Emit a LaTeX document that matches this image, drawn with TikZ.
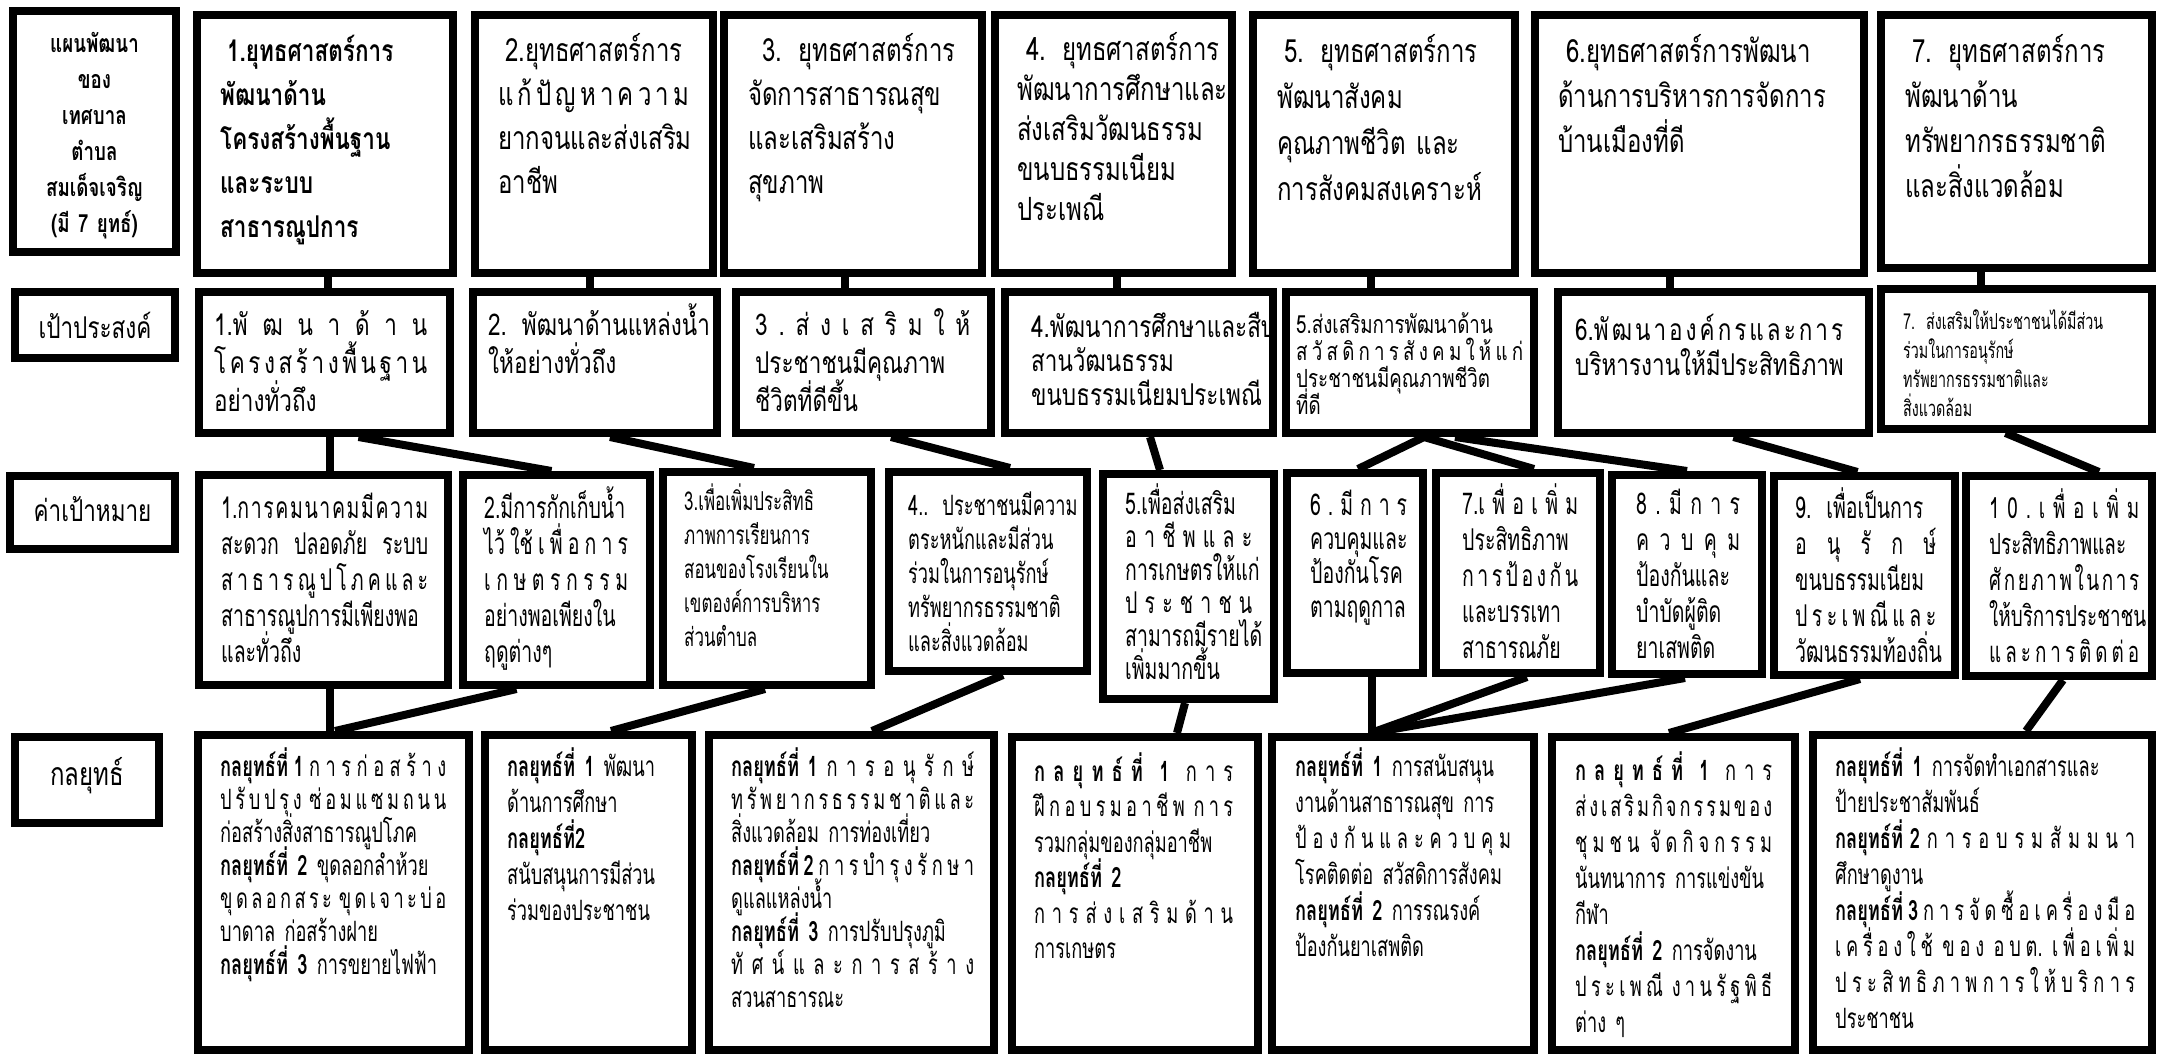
\documentclass[tikz,border=0pt]{standalone}
\usepackage{fontspec}
\setmainfont[Script=Thai,FakeStretch=0.75]{Loma}
\newfontfamily\cond[Script=Thai,FakeStretch=0.65]{Loma}
\usetikzlibrary{calc}
\lineskiplimit=-100pt
\newcommand\J[1]{\leavevmode\hbox to\hsize{\spaceskip=0pt plus 1fil\xspaceskip=0pt plus 1fil\strut#1}}
\newcommand\N[1]{\leavevmode\hbox{\strut#1}}
\newcommand\bx[5]{\node[box, minimum width={(#4)-(#2)-8}, minimum height={(#5)-(#3)-8}] (#1) at ({((#2)+(#4))/2},{((#3)+(#5))/2}) {};}
\newcommand\fs[2]{\fontsize{#1}{#2}\selectfont\lineskiplimit=-100pt }
\tikzset{
  box/.style={draw=black, line width=8pt, inner sep=0pt, rectangle, fill=white},
  conn/.style={draw=black, line width=8pt},
  tx/.style={anchor=base west, inner sep=0pt, align=left},
  lab/.style={anchor=base, inner sep=0pt, align=center},
}
\begin{document}
\begin{tikzpicture}[x=1pt,y=-1pt]
\fill[white] (0,0) rectangle (2158,1054);
\useasboundingbox (0,0) rectangle (2158,1054);
% ---------------- row 1
\bx{L1}{9}{7}{180}{256}
\bx{S1}{193}{11}{457}{277}
\bx{S2}{471}{11}{717}{277}
\bx{S3}{720}{11}{986}{277}
\bx{S4}{991}{11}{1236}{277}
\bx{S5}{1249}{11}{1519}{277}
\bx{S6}{1531}{11}{1868}{277}
\bx{S7}{1877}{11}{2156}{272}
% ---------------- row 2
\bx{P}{11}{288}{179}{362}
\bx{T1}{195}{288}{454}{437}
\bx{T2}{469}{288}{721}{437}
\bx{T3}{732}{288}{995}{437}
\bx{T4}{1001}{288}{1277}{437}
\bx{T5}{1282}{288}{1538}{437}
\bx{T6}{1554}{288}{1873}{437}
\bx{T7}{1877}{285}{2156}{433}
% ---------------- row 3
\bx{Q}{6}{472}{179}{553}
\bx{G1}{195}{471}{452}{689}
\bx{G2}{459}{471}{654}{689}
\bx{G3}{659}{468}{875}{689}
\bx{G4}{885}{468}{1091}{675}
\bx{G5}{1099}{470}{1278}{703}
\bx{G6}{1283}{469}{1427}{677}
\bx{G7}{1432}{469}{1604}{677}
\bx{G8}{1608}{471}{1766}{678}
\bx{G9}{1770}{472}{1959}{679}
\bx{G10}{1962}{472}{2156}{680}
% ---------------- row 4
\bx{R}{11}{733}{163}{827}
\bx{K1}{194}{731}{473}{1054}
\bx{K2}{481}{731}{696}{1054}
\bx{K3}{705}{731}{998}{1054}
\bx{K4}{1008}{733}{1262}{1054}
\bx{K5}{1268}{733}{1538}{1054}
\bx{K6}{1548}{733}{1799}{1054}
\bx{K7}{1809}{731}{2156}{1054}
% ---------------- connectors row1 -> row2
\draw[conn] ([xshift=3]S1.south) -- ([xshift=3]S1.south |- T1.north);
\draw[conn] ([xshift=-4]S2.south) -- ([xshift=-4]S2.south |- T2.north);
\draw[conn] ([xshift=-8]S3.south) -- ([xshift=-8]S3.south |- T3.north);
\draw[conn] ([xshift=3.5]S4.south) -- ([xshift=3.5]S4.south |- T4.north);
\draw[conn] ([xshift=-13]S5.south) -- ([xshift=-13]S5.south |- T5.north);
\draw[conn] ([xshift=-30]S6.south) -- ([xshift=-30]S6.south |- T6.north);
\draw[conn] ([xshift=-36]S7.south) -- ([xshift=-36]S7.south |- T7.north);
% ---------------- connectors row2 -> row3
\draw[conn] ([xshift=5.5]T1.south) -- ([xshift=5.5]T1.south |- G1.north);
\draw[conn] ([xshift=34]T1.south) -- ([xshift=-5]G2.north);
\draw[conn] ([xshift=15]T2.south) -- ([xshift=-13]G3.north);
\draw[conn] ([xshift=27.5]T3.south) -- ([xshift=22]G4.north);
\draw[conn] ([xshift=11]T4.south) -- ([xshift=-28.5]G5.north);
\draw[conn] ([xshift=14]T5.south) -- ([xshift=3]G6.north);
\draw[conn] ([xshift=14]T5.south) -- ([xshift=16]G7.north);
\draw[conn] ([xshift=45]T5.south) -- (G8.north);
\draw[conn] ([xshift=20]T6.south) -- ([xshift=-7]G9.north);
\draw[conn] ([xshift=-11]T7.south) -- ([xshift=40]G10.north);
% ---------------- connectors row3 -> row4
\draw[conn] ([xshift=6.5]G1.south) -- ([xshift=6.5]G1.south |- K1.north);
\draw[conn] ([xshift=-40]G2.south) -- ([xshift=1.5]K1.north);
\draw[conn] ([xshift=-2]G3.south) -- ([xshift=22.5]K2.north);
\draw[conn] ([xshift=15]G4.south) -- ([xshift=20.5]K3.north);
\draw[conn] ([xshift=-3.5]G5.south) -- ([xshift=42]K4.north);
\draw[conn] ([xshift=17]G6.south) -- ([xshift=17]G6.south |- K5.north);
\draw[conn] ([xshift=9]G7.south) -- ([xshift=-32]K5.north);
\draw[conn] ([xshift=-2]G8.south) -- ([xshift=-32]K5.north);
\draw[conn] ([xshift=-4.5]G9.south) -- ([xshift=-4.5]K6.north);
\draw[conn] ([xshift=4]G10.south) -- ([xshift=43.5]K7.north);
% ---------------- texts row 1
\node[lab, text width=165, font=\fs{25}{36}\bfseries] (L1t) at (94.5,53)
 {\N{แผนพัฒนา}\\\N{ของ}\\\N{เทศบาล}\\\N{ตำบล}\\\N{สมเด็จเจริญ}\\\N{(มี 7 ยุทธ์)}};
\node[tx, text width=230, font=\fs{30}{44}\bfseries] (S1t) at (220,62)
 {\N{\hspace*{7pt}1.ยุทธศาสตร์การ}\\\N{พัฒนาด้าน}\\\N{โครงสร้างพื้นฐาน}\\\N{และระบบ}\\\N{สาธารณูปการ}};
\node[tx, text width=191, font=\fs{32}{44}] (S2t) at (498,62)
 {\N{\hspace*{7pt}2.ยุทธศาสตร์การ}\\\J{แ ก้ ปั ญ ห า ค ว า ม}\\\N{ยากจนและส่งเสริม}\\\N{อาชีพ}};
\node[tx, text width=230, font=\fs{32}{44}] (S3t) at (748,62)
 {\N{\hspace*{14pt}3. ยุทธศาสตร์การ}\\\N{จัดการสาธารณสุข}\\\N{และเสริมสร้าง}\\\N{สุขภาพ}};
\node[tx, text width=215, font=\fs{32}{40}] (S4t) at (1017,61)
 {\N{\hspace*{9pt}4. ยุทธศาสตร์การ}\\\N{พัฒนาการศึกษาและ}\\\N{ส่งเสริมวัฒนธรรม}\\\N{ขนบธรรมเนียม}\\\N{ประเพณี}};
\node[tx, text width=230, font=\fs{32}{46}] (S5t) at (1277,63)
 {\N{\hspace*{7pt}5. ยุทธศาสตร์การ}\\\N{พัฒนาสังคม}\\\N{คุณภาพชีวิต และ}\\\N{การสังคมสงเคราะห์}};
\node[tx, text width=290, font=\fs{32}{45}] (S6t) at (1558,63)
 {\N{\hspace*{8pt}6.ยุทธศาสตร์การพัฒนา}\\\N{ด้านการบริหารการจัดการ}\\\N{บ้านเมืองที่ดี}};
\node[tx, text width=230, font=\fs{32}{45}] (S7t) at (1905,63)
 {\N{\hspace*{7pt}7. ยุทธศาสตร์การ}\\\N{พัฒนาด้าน}\\\N{ทรัพยากรธรรมชาติ}\\\N{และสิ่งแวดล้อม}};
% ---------------- texts row 2
\node[lab, font=\fs{30}{36}] (Pt) at (95,338) {เป้าประสงค์};
\node[tx, text width=213, font=\fs{30}{38}] (T1t) at (214,335)
 {\J{1.พั ฒ น า ด้ า น}\\\J{โ ค ร ง ส ร้ า ง พื้ น ฐ า น}\\\N{อย่างทั่วถึง}};
\node[tx, text width=223, font=\fs{30}{38}] (T2t) at (488,335)
 {\N{2. พัฒนาด้านแหล่งน้ำ}\\\N{ให้อย่างทั่วถึง}};
\node[tx, text width=215, font=\fs{30}{38}] (T3t) at (755,335)
 {\J{3 . ส่ ง เ ส ริ ม ใ ห้}\\\N{ประชาชนมีคุณภาพ}\\\N{ชีวิตที่ดีขึ้น}};
\node[tx, text width=220, font=\fs{30}{34}] (T4t) at (1031,337)
 {\N{4.พัฒนาการศึกษาและสืบ}\\\N{สานวัฒนธรรม}\\\N{ขนบธรรมเนียมประเพณี}};
\node[tx, text width=227, font=\fs{25}{27}] (T5t) at (1296,333)
 {\N{5.ส่งเสริมการพัฒนาด้าน}\\\J{ส วั ส ดิ ก า ร สั ง ค ม ใ ห้ แ ก่}\\\N{ประชาชนมีคุณภาพชีวิต}\\\N{ที่ดี}};
\node[tx, text width=268, font=\fs{30}{35}] (T6t) at (1575,340)
 {\J{6.พั ฒ น า อ ง ค์ ก ร แ ล ะ ก า ร}\\\N{บริหารงานให้มีประสิทธิภาพ}};
\node[tx, text width=216, font=\fs{22}{29}\cond] (T7t) at (1903,329)
 {\N{7. ส่งเสริมให้ประชาชนได้มีส่วน}\\\N{ร่วมในการอนุรักษ์}\\\N{ทรัพยากรธรรมชาติและ}\\\N{สิ่งแวดล้อม}};
% ---------------- texts row 3
\node[lab, font=\fs{30}{36}] (Qt) at (92.5,521) {ค่าเป้าหมาย};
\node[tx, text width=207, font=\fs{30}{36}\cond] (G1t) at (221,518)
 {\J{1.ก า ร ค ม น า ค ม มี ค ว า ม}\\\J{สะดวก ปลอดภัย ระบบ}\\\J{ส า ธ า ร ณู ป โ ภ ค แ ล ะ}\\\N{สาธารณูปการมีเพียงพอ}\\\N{และทั่วถึง}};
\node[tx, text width=144, font=\fs{30}{36}\cond] (G2t) at (484,518)
 {\N{2.มีการกักเก็บน้ำ}\\\J{ไว้ ใช้ เ พื่ อ ก า ร}\\\J{เ ก ษ ต ร ก ร ร ม}\\\N{อย่างพอเพียงใน}\\\N{ฤดูต่างๆ}};
\node[tx, text width=170, font=\fs{26}{34}\cond] (G3t) at (684,510)
 {\N{3.เพื่อเพิ่มประสิทธิ}\\\N{ภาพการเรียนการ}\\\N{สอนของโรงเรียนใน}\\\N{เขตองค์การบริหาร}\\\N{ส่วนตำบล}};
\node[tx, text width=154, font=\fs{28}{34}\cond] (G4t) at (908,515)
 {\N{4.. ประชาชนมีความ}\\\N{ตระหนักและมีส่วน}\\\N{ร่วมในการอนุรักษ์}\\\N{ทรัพยากรธรรมชาติ}\\\N{และสิ่งแวดล้อม}};
\node[tx, text width=127, font=\fs{30}{33}\cond] (G5t) at (1125,514)
 {\N{5.เพื่อส่งเสริม}\\\J{อ า ชี พ แ ล ะ}\\\N{การเกษตรให้แก่}\\\J{ป ร ะ ช า ช น}\\\N{สามารถมีรายได้}\\\N{เพิ่มมากขึ้น}};
\node[tx, text width=97, font=\fs{30}{34}\cond] (G6t) at (1310,515)
 {\J{6 . มี ก า ร}\\\N{ควบคุมและ}\\\N{ป้องกันโรค}\\\N{ตามฤดูกาล}};
\node[tx, text width=116, font=\fs{30}{36}\cond] (G7t) at (1462,514)
 {\J{7.เ พื่ อ เ พิ่ ม}\\\N{ประสิทธิภาพ}\\\J{ก า ร ป้ อ ง กั น}\\\N{และบรรเทา}\\\N{สาธารณภัย}};
\node[tx, text width=104, font=\fs{30}{36}\cond] (G8t) at (1636,514)
 {\J{8 . มี ก า ร}\\\J{ค ว บ คุ ม}\\\N{ป้องกันและ}\\\N{บำบัดผู้ติด}\\\N{ยาเสพติด}};
\node[tx, text width=141, font=\fs{30}{36}\cond] (G9t) at (1795,518)
 {\N{9. เพื่อเป็นการ}\\\J{อ นุ รั ก ษ์}\\\N{ขนบธรรมเนียม}\\\J{ป ร ะ เ พ ณี แ ล ะ}\\\N{วัฒนธรรมท้องถิ่น}};
\node[tx, text width=150, font=\fs{29}{36}\cond] (G10t) at (1989,518)
 {\J{1 0 . เ พื่ อ เ พิ่ ม}\\\N{ประสิทธิภาพและ}\\\J{ศั ก ย ภ า พ ใ น ก า ร}\\\N{ให้บริการประชาชน}\\\J{แ ล ะ ก า ร ติ ด ต่ อ}};
% ---------------- texts row 4
\node[lab, font=\fs{32}{36}] (Rt) at (87,785) {กลยุทธ์};
\node[tx, text width=226, font=\fs{28}{33}\cond] (K1t) at (220,776)
 {\J{\textbf{กลยุทธ์ที่ 1}\ ก า ร ก่ อ ส ร้ า ง}\\\J{ป รั บ ป รุ ง \ ซ่ อ ม แ ซ ม ถ น น}\\\N{ก่อสร้างสิ่งสาธารณูปโภค}\\\N{\textbf{กลยุทธ์ที่ 2} ขุดลอกลำห้วย}\\\J{ขุ ด ล อ ก ส ร ะ \ ขุ ด เ จ า ะ บ่ อ}\\\N{บาดาล ก่อสร้างฝาย}\\\N{\textbf{กลยุทธ์ที่ 3} การขยายไฟฟ้า}};
\node[tx, text width=161, font=\fs{28}{36}\cond] (K2t) at (507,776)
 {\N{\textbf{กลยุทธ์ที่ 1} พัฒนา}\\\N{ด้านการศึกษา}\\\N{\textbf{กลยุทธ์ที่2}}\\\N{สนับสนุนการมีส่วน}\\\N{ร่วมของประชาชน}};
\node[tx, text width=243, font=\fs{28}{33}\cond] (K3t) at (731,776)
 {\J{\textbf{กลยุทธ์ที่ 1}\ ก า ร อ นุ รั ก ษ์}\\\J{ท รั พ ย า ก ร ธ ร ร ม ช า ติ แ ล ะ}\\\N{สิ่งแวดล้อม การท่องเที่ยว}\\\J{\textbf{กลยุทธ์ที่ 2}\ ก า ร บำ รุ ง รั ก ษ า}\\\N{ดูแลแหล่งน้ำ}\\\N{\textbf{กลยุทธ์ที่ 3} การปรับปรุงภูมิ}\\\J{ทั ศ น์ แ ล ะ ก า ร ส ร้ า ง}\\\N{สวนสาธารณะ}};
\node[tx, text width=199, font=\fs{28}{35.5}\cond] (K4t) at (1034,781)
 {\J{\textbf{ก ล ยุ ท ธ์ ที่ \ 1} \ ก า ร}\\\J{ฝึ ก อ บ ร ม อ า ชี พ \ ก า ร}\\\N{รวมกลุ่มของกลุ่มอาชีพ}\\\N{\textbf{กลยุทธ์ที่ 2}}\\\J{ก า ร ส่ ง เ ส ริ ม ด้ า น}\\\N{การเกษตร}};
\node[tx, text width=216, font=\fs{28}{36}\cond] (K5t) at (1295,776)
 {\N{\textbf{กลยุทธ์ที่ 1} การสนับสนุน}\\\N{งานด้านสาธารณสุข การ}\\\J{ป้ อ ง กั น แ ล ะ ค ว บ คุ ม}\\\N{โรคติดต่อ สวัสดิการสังคม}\\\N{\textbf{กลยุทธ์ที่ 2} การรณรงค์}\\\N{ป้องกันยาเสพติด}};
\node[tx, text width=197, font=\fs{28}{36}\cond] (K6t) at (1575,780)
 {\J{\textbf{ก ล ยุ ท ธ์ ที่ \ 1} \ ก า ร}\\\J{ส่ ง เ ส ริ ม กิ จ ก ร ร ม ข อ ง}\\\J{ชุ ม ช น \ จั ด กิ จ ก ร ร ม}\\\N{นันทนาการ การแข่งขัน}\\\N{กีฬา}\\\N{\textbf{กลยุทธ์ที่ 2} การจัดงาน}\\\J{ป ร ะ เ พ ณี \ ง า น รั ฐ พิ ธี}\\\N{ต่าง ๆ}};
\node[tx, text width=300, font=\fs{28}{36}\cond] (K7t) at (1835,776)
 {\N{\textbf{กลยุทธ์ที่ 1} การจัดทำเอกสารและ}\\\N{ป้ายประชาสัมพันธ์}\\\J{\textbf{กลยุทธ์ที่ 2}\ ก า ร อ บ ร ม สั ม ม น า}\\\N{ศึกษาดูงาน}\\\J{\textbf{กลยุทธ์ที่ 3}\ ก า ร จั ด ซื้ อ เ ค รื่ อ ง มื อ}\\\J{เ ค รื่ อ ง ใ ช้ \ ข อ ง \ อ บ ต. \ เ พื่ อ เ พิ่ ม}\\\J{ป ร ะ สิ ท ธิ ภ า พ ก า ร ใ ห้ บ ริ ก า ร}\\\N{ประชาชน}};
\end{tikzpicture}
\end{document}
